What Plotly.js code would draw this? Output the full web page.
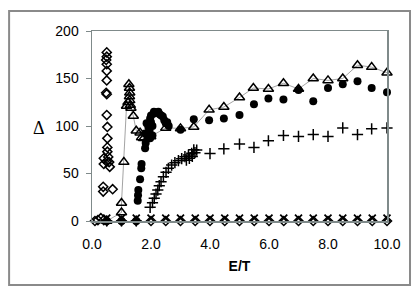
<!DOCTYPE html>
<html>
<head>
<meta charset="utf-8">
<script src="https://cdn.plot.ly/plotly-3.0.1.min.js"></script>
<style>html,body{margin:0;padding:0;background:#fff;}#chart{width:415px;height:294px;}</style>
</head>
<body>
<div id="chart"></div>
<script>
// Open diamonds
const diamondX = [0.1,0.2,0.3,0.4,
  0.5,0.5,0.48,0.5,0.5,0.5,0.48,0.5,0.5,0.52,0.52,0.52,0.52,0.55,0.5,0.4,0.4,0.6,0.58,0.38,0.38,0.7,
  0.5,1.0,1.5,2.0,2.5,3.0,3.5,4.0,4.5,5.0,5.5,6.0,6.5,7.0,7.5,8.0,8.5,9.0,9.5,10.0];
const diamondY = [0,1,3,1,
  177.5,173,169.5,165,158,148,135,133.5,111.5,99,87,77.5,73,67.5,62.5,66,60,57,62,36,31,33.5,
  0,0,0,0,0,0,0,0,0,0,0,0,0,0,0,0,0,0,0,0];

// Open triangles (joined by a thin grey line)
const triX = [0.5,1.0,1.0,1.08,1.17,1.22,1.25,1.27,1.28,1.27,1.28,1.3,1.32,1.4,1.5,1.63,1.68,1.75,1.99,2.5,3.0,3.45,3.97,4.47,5.0,5.47,5.98,6.49,7.0,7.5,8.0,8.5,9.0,9.48,10.0];
const triY = [0,9,19,62,121,125,144,140,135,131,127,122,119,110.5,95,93,88,87,89,98,97.5,99,117,120,130,140,139,145,139,150,148,150,164,162,156];

// Filled circles
const circX = [0.5,1.0,1.5,
  1.55,1.56,1.57,1.63,1.67,1.68,1.8,1.82,1.88,1.8,1.91,1.85,1.97,1.95,2.0,2.05,2.0,2.08,2.1,2.15,2.2,2.25,2.3,2.35,2.4,2.45,2.5,2.55,2.6,1.97,2.05,
  3.0,3.45,3.97,4.47,5.0,5.49,5.98,6.49,7.0,7.5,8.0,8.5,9.0,9.48,10.0];
const circY = [0,0,0,
  21.4,27,32.6,44,55.5,60,76.5,82,87,92,99,103,108,95,104,100,111,113,115,114,114,115,112,111,110,106,103,104,100,87,90,
  96,107,106,108,111.6,123,129,128,138,126,140,144,147,140,135.5];

// Plus signs
const plusX = [0.5,1.0,1.5,
  1.97,2.05,2.11,2.17,2.23,2.28,2.34,2.42,2.51,2.59,2.7,2.81,2.93,3.04,3.15,3.2,3.27,3.3,3.38,3.4,3.45,3.49,3.55,
  4.0,4.47,5.0,5.49,5.98,6.49,7.0,7.5,8.0,8.5,9.0,9.48,10.0];
const plusY = [0,0,0,
  14.4,19.2,23.9,28.4,32.6,37.2,41.4,46.7,51.2,55.4,58.9,61.4,63.5,65.6,67.7,64,69.5,66,71.2,68,75,71.9,74.7,
  71,76,81,77.5,84.5,90,89,91,89,98,91,97,98];

// X marks
const crossX = [0.5,1.0,1.5,2.0,2.5,3.0,3.5,4.0,4.5,5.0,5.5,6.0,6.5,7.0,7.5,8.0,8.5,9.0,9.5,10.0];
const crossY = [3,3,3,3,3,3,3,3,3,3,3,3,3,3,3,3,3,3,3,3];

const xTicks = [0,2,4,6,8,10];
const xTickText = ['0.0','2.0','4.0','6.0','8.0','10.0'];
const yTicks = [0,50,100,150,200];

const traces = [
  {x: diamondX, y: diamondY, mode: 'markers', type: 'scatter', cliponaxis: false,
   marker: {symbol: 'diamond-open', size: 7, color: '#000', line: {width: 1.5, color: '#000'}}},
  {x: triX, y: triY, mode: 'lines+markers', type: 'scatter', cliponaxis: false,
   line: {color: '#8c8c8c', width: 0.8},
   marker: {symbol: 'triangle-up-open', size: 9, color: '#000', line: {width: 1.5, color: '#000'}}},
  {x: circX, y: circY, mode: 'markers', type: 'scatter', cliponaxis: false,
   marker: {symbol: 'circle', size: 8, color: '#000', line: {width: 0}}},
  {x: plusX, y: plusY, mode: 'markers', type: 'scatter', cliponaxis: false,
   marker: {symbol: 'cross-thin-open', size: 8, color: '#000', line: {width: 1.5, color: '#000'}}},
  {x: crossX, y: crossY, mode: 'markers', type: 'scatter', cliponaxis: false,
   marker: {symbol: 'x-thin-open', size: 7, color: '#000', line: {width: 1.8, color: '#000'}}}
];

const layout = {
  width: 415, height: 294,
  margin: {l: 92, r: 28, t: 31, b: 73},
  paper_bgcolor: '#fff', plot_bgcolor: '#fff',
  showlegend: false,
  font: {family: 'Liberation Sans, Arial, sans-serif', size: 14, color: '#000'},
  xaxis: {range: [0, 10], tickvals: xTicks, ticktext: xTickText, showgrid: false, zeroline: false,
    showline: true, linecolor: '#7f8a8a', linewidth: 1.5, mirror: true,
    ticks: '', ticklabelstandoff: 10,
    title: {text: '<b>E/T</b>', font: {size: 14}, standoff: 10}},
  yaxis: {range: [0, 200], tickvals: yTicks, showgrid: false, zeroline: false,
    showline: true, linecolor: '#7f8a8a', linewidth: 1.5, mirror: true,
    ticks: 'outside', ticklen: 5, tickcolor: '#7f8a8a', tickwidth: 1, ticklabelstandoff: 4},
  annotations: [{text: 'Δ', xref: 'paper', yref: 'paper', x: -0.179, y: 0.489,
    xanchor: 'center', yanchor: 'middle', showarrow: false,
    font: {family: 'Liberation Serif, Times New Roman, serif', size: 18, color: '#000'}}],
  shapes: [{type: 'rect', xref: 'paper', yref: 'paper', x0: -0.281, x1: 1.078, y0: -0.337, y1: 1.105,
    line: {color: '#8a8a8a', width: 2}, fillcolor: 'rgba(0,0,0,0)'}]
};

Plotly.newPlot('chart', traces, layout, {staticPlot: true, displayModeBar: false});
</script>
</body>
</html>
